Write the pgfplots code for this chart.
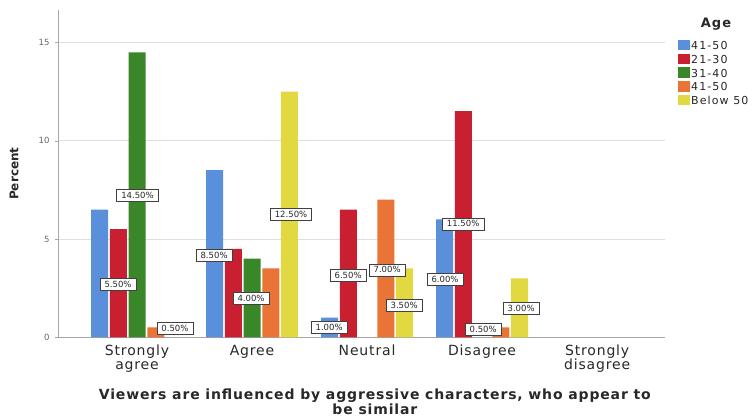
\documentclass[border=0pt]{standalone}
\usepackage{fontspec}
\setmainfont{DejaVu Sans}
\usepackage{pgfplots}
\pgfplotsset{compat=1.18}
\definecolor{cBlue}{RGB}{90,143,220}
\definecolor{cRed}{RGB}{200,32,48}
\definecolor{cGreen}{RGB}{58,135,42}
\definecolor{cOrange}{RGB}{234,116,56}
\definecolor{cYellow}{RGB}{226,216,66}
\definecolor{txt}{RGB}{40,40,40}
\begin{document}
\begin{tikzpicture}
\path[use as bounding box] (-58pt,-81.7pt) rectangle (697pt,337.3pt);
\begin{axis}[
  at={(0pt,0pt)}, anchor=south west,
  scale only axis, width=607pt, height=327.3pt,
  xmin=-0.687, xmax=4.59, ymin=0, ymax=16.65,
  clip=false,
  axis x line*=bottom, axis y line*=left,
  axis line style={draw=gray!70, line width=0.6pt, -},
  ytick={0,5,10,15},
  ymajorgrids, grid style={draw=gray!25, line width=0.6pt},
  ytick style={draw=gray!70}, tick align=outside,
  major tick length=3pt,
  xtick={0,1,2,3,4},
  xtick style={draw=none},
  xticklabels={{Strongly\\agree},{Agree},{Neutral},{Disagree},{Strongly\\disagree}},
  xticklabel style={align=center, font=\addfontfeature{LetterSpace=6}\fontsize{14}{14.5}\selectfont, text=txt, yshift=-1pt},
  yticklabel style={font=\fontsize{8.5}{10}\selectfont, text=gray!80!black, xshift=-2pt},
  /pgf/number format/assume math mode=true,
  ylabel={Percent},
  ylabel style={font=\bfseries\fontsize{12}{14}\selectfont, text=txt, at={(axis description cs:-0.0593,0.50)}, anchor=south},
  legend style={at={(1.0214,0.909)}, anchor=north west, draw=none, fill=none,
    font=\addfontfeature{LetterSpace=10}\fontsize{11}{12}\selectfont, text=gray!30!black, inner sep=0pt,
    row sep=0.3pt,
    nodes={inner sep=1pt, text height=8.3pt, text depth=2.5pt}},
  legend cell align=left,
  /tikz/every even column/.style={column sep=1.5pt},
  legend image code/.code={\fill[#1] (0pt,-3.5pt) rectangle (12pt,7pt);},
]
\addplot[ybar, bar width=0.148, bar shift=-0.325, fill=cBlue, draw=none]
  coordinates {(0,6.5) (1,8.5) (2,1.0) (3,6.0)};
\addlegendentry{41-50}
\addplot[ybar, bar width=0.148, bar shift=-0.163, fill=cRed, draw=none]
  coordinates {(0,5.5) (1,4.5) (2,6.5) (3,11.5)};
\addlegendentry{21-30}
\addplot[ybar, bar width=0.148, bar shift=0, fill=cGreen, draw=none]
  coordinates {(0,14.5) (1,4.0)};
\addlegendentry{31-40}
\addplot[ybar, bar width=0.148, bar shift=0.163, fill=cOrange, draw=none]
  coordinates {(0,0.5) (1,3.5) (2,7.0) (3,0.5)};
\addlegendentry{41-50}
\addplot[ybar, bar width=0.148, bar shift=0.325, fill=cYellow, draw=none]
  coordinates {(1,12.5) (2,3.5) (3,3.0)};
\addlegendentry{Below 50}
% data labels (value shown, placed near the middle of each bar)
\addplot[draw=none, mark=none, forget plot,
  point meta=explicit,
  nodes near coords={\pgfmathprintnumber[fixed,fixed zerofill,precision=2]{\pgfplotspointmeta}\%},
  nodes near coords style={anchor=center, font=\fontsize{8.5}{9}\selectfont, text=txt,
    fill=white, draw=black!75, line width=0.6pt, inner xsep=4.5pt, inner ysep=2.8pt}]
  table[meta=v] {
x y v
0.004 7.24 14.50
-0.165 2.71 5.50
0.330 0.47 0.50
0.670 4.19 8.50
0.991 1.99 4.00
1.339 6.25 12.50
1.670 0.52 1.00
1.835 3.13 6.50
2.174 3.43 7.00
2.322 1.64 3.50
2.678 2.97 6.00
2.835 5.77 11.50
3.009 0.42 0.50
3.339 1.49 3.00
};
\node[font=\bfseries\addfontfeature{LetterSpace=8}\fontsize{13}{14}\selectfont, text=txt, anchor=center] at (rel axis cs:1.084,0.958) {Age};
\node[anchor=north, yshift=-48pt, align=center, font=\bfseries\addfontfeature{LetterSpace=6}\fontsize{14}{13.5}\selectfont, text=txt] at (rel axis cs:0.522,0) {Viewers are influenced by aggressive characters, who appear to\\be similar};
\end{axis}
\end{tikzpicture}
\end{document}
